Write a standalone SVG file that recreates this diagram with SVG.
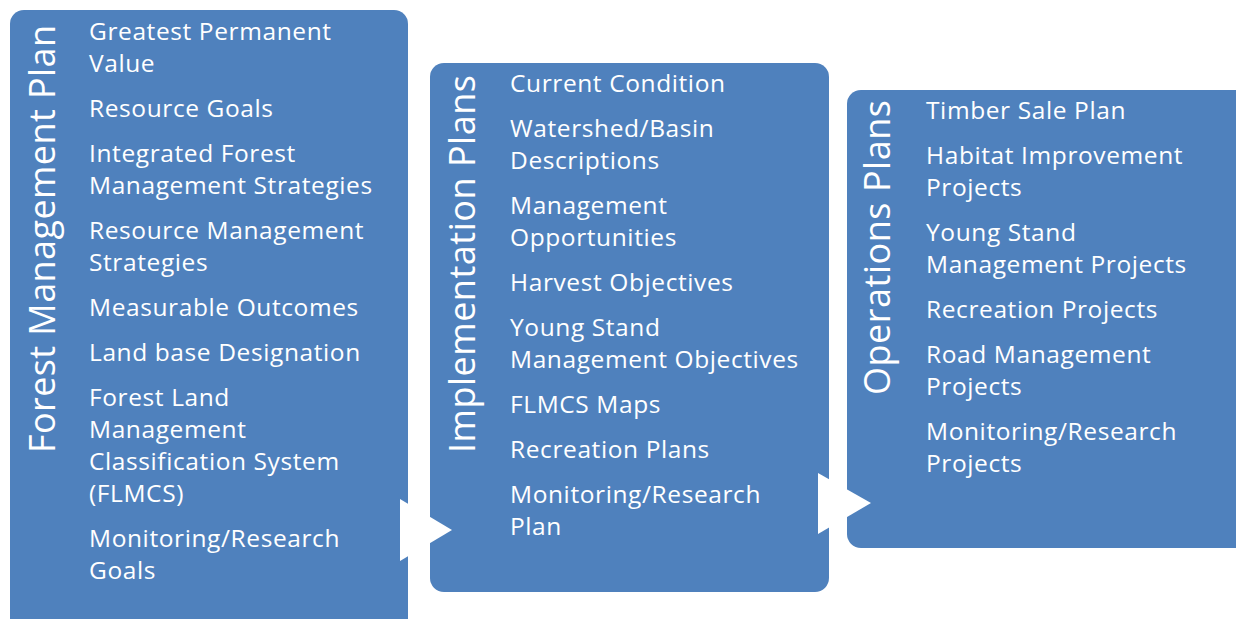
<svg xmlns="http://www.w3.org/2000/svg" width="1236" height="619" viewBox="0 0 1236 619">
<style>
.box{fill:#4F81BD;}
.t{font-family:"Open Sans",Lato,"Liberation Sans",sans-serif;font-size:24.5px;letter-spacing:0.6px;fill:#FFFFFF;}
.h{font-family:"Open Sans",Lato,"Liberation Sans",sans-serif;font-size:36px;fill:#FFFFFF;}
.arrow{fill:#FFFFFF;}
</style>
<rect width="1236" height="619" fill="#FFFFFF"/>
<g id="node-forest">
<rect class="box" x="10" y="10" width="398" height="630" rx="14"/>
<text class="h" transform="translate(55,453) rotate(-90)" textLength="428">Forest Management Plan</text>
<text class="t" x="89" y="40">Greatest Permanent</text>
<text class="t" x="89" y="72">Value</text>
<text class="t" x="89" y="117">Resource Goals</text>
<text class="t" x="89" y="162">Integrated Forest</text>
<text class="t" x="89" y="194">Management Strategies</text>
<text class="t" x="89" y="239">Resource Management</text>
<text class="t" x="89" y="271">Strategies</text>
<text class="t" x="89" y="316">Measurable Outcomes</text>
<text class="t" x="89" y="361">Land base Designation</text>
<text class="t" x="89" y="406">Forest Land</text>
<text class="t" x="89" y="438">Management</text>
<text class="t" x="89" y="470">Classification System</text>
<text class="t" x="89" y="502">(FLMCS)</text>
<text class="t" x="89" y="547">Monitoring/Research</text>
<text class="t" x="89" y="579">Goals</text>
</g>
<g id="node-implementation">
<rect class="box" x="430" y="63" width="399" height="529" rx="14"/>
<text class="h" transform="translate(475,453) rotate(-90)" textLength="378">Implementation Plans</text>
<text class="t" x="510" y="92">Current Condition</text>
<text class="t" x="510" y="137">Watershed/Basin</text>
<text class="t" x="510" y="169">Descriptions</text>
<text class="t" x="510" y="214">Management</text>
<text class="t" x="510" y="246">Opportunities</text>
<text class="t" x="510" y="291">Harvest Objectives</text>
<text class="t" x="510" y="336">Young Stand</text>
<text class="t" x="510" y="368">Management Objectives</text>
<text class="t" x="510" y="413">FLMCS Maps</text>
<text class="t" x="510" y="458">Recreation Plans</text>
<text class="t" x="510" y="503">Monitoring/Research</text>
<text class="t" x="510" y="535">Plan</text>
</g>
<g id="node-operations">
<rect class="box" x="847" y="90" width="410" height="458" rx="14"/>
<text class="h" transform="translate(890,395) rotate(-90)" textLength="295">Operations Plans</text>
<text class="t" x="926" y="119">Timber Sale Plan</text>
<text class="t" x="926" y="164">Habitat Improvement</text>
<text class="t" x="926" y="196">Projects</text>
<text class="t" x="926" y="241">Young Stand</text>
<text class="t" x="926" y="273">Management Projects</text>
<text class="t" x="926" y="318">Recreation Projects</text>
<text class="t" x="926" y="363">Road Management</text>
<text class="t" x="926" y="395">Projects</text>
<text class="t" x="926" y="440">Monitoring/Research</text>
<text class="t" x="926" y="472">Projects</text>
</g>
<g id="connectors">
<polygon class="arrow" points="400,499 452,530 400,561"/>
<polygon class="arrow" points="818,473 871,503 818,534"/>
</g>
</svg>
